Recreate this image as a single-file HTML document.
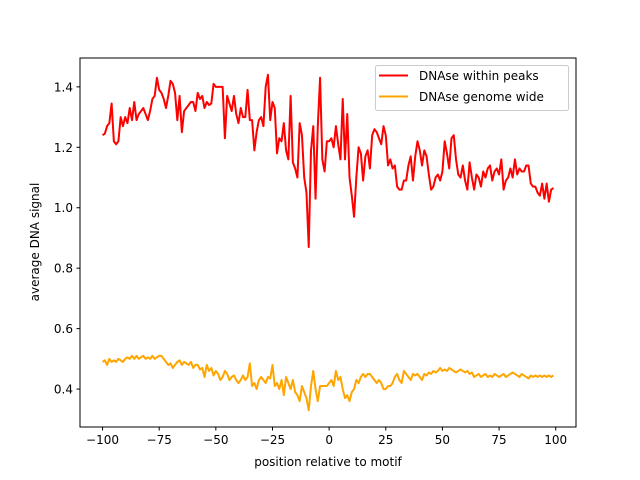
<!DOCTYPE html>
<html><head><meta charset="utf-8"><style>
body{margin:0;background:#fff}
svg{display:block;font-family:"DejaVu Sans","Liberation Sans",sans-serif}
</style></head><body>
<svg id="chart" width="640" height="480">
<rect x="0" y="0" width="640" height="480" fill="#fff"/>
<g id="series"></g>
<rect x="80" y="58" width="496" height="369" fill="none" stroke="#000" stroke-width="1"/>
<g id="xticks"></g>
<g id="yticks"></g>
<text x="328" y="466" font-size="12" text-anchor="middle">position relative to motif</text>
<text x="0" y="0" font-size="12" text-anchor="middle" transform="translate(39,242) rotate(-90)">average DNA signal</text>
<g>
<rect x="375.5" y="65.5" width="193" height="45" rx="2" fill="#fff" fill-opacity="0.8" stroke="#ccc"/>
<g>
<line x1="379" y1="75.5" x2="408" y2="75.5" stroke="#ff0000" stroke-width="2"/>
<text x="419" y="80" font-size="12">DNAse within peaks</text></g>
<g>
<line x1="379" y1="96.5" x2="408" y2="96.5" stroke="#ffa500" stroke-width="2"/>
<text x="419" y="101" font-size="12">DNAse genome wide</text></g>
</g>
</svg>
<script>
const xTicks=[-100,-75,-50,-25,0,25,50,75,100];
const yTicks=[0.4,0.6,0.8,1.0,1.2,1.4];
const peaks=[
1.24,1.245,1.27,1.28,1.345,1.22,1.21,1.22,1.30,1.27,
1.30,1.28,1.33,1.29,1.35,1.29,1.31,1.32,1.33,1.31,
1.29,1.32,1.36,1.37,1.43,1.39,1.38,1.36,1.33,1.37,
1.42,1.41,1.38,1.29,1.37,1.25,1.32,1.33,1.34,1.35,
1.35,1.32,1.38,1.36,1.37,1.33,1.35,1.34,1.345,1.41,
1.40,1.40,1.40,1.40,1.23,1.37,1.345,1.32,1.37,1.31,
1.28,1.33,1.30,1.30,1.39,1.29,1.29,1.19,1.25,1.29,
1.30,1.27,1.40,1.44,1.29,1.35,1.33,1.18,1.23,1.22,
1.28,1.19,1.16,1.37,1.15,1.13,1.10,1.28,1.24,1.10,
1.05,0.87,1.19,1.27,1.03,1.27,1.43,1.16,1.12,1.22,
1.22,1.23,1.20,1.27,1.21,1.16,1.36,1.16,1.31,1.10,
1.04,0.97,1.10,1.20,1.18,1.09,1.17,1.19,1.13,1.24,
1.26,1.25,1.23,1.21,1.27,1.24,1.14,1.16,1.13,1.14,
1.07,1.06,1.06,1.09,1.09,1.14,1.17,1.09,1.17,1.22,
1.19,1.14,1.19,1.17,1.11,1.06,1.07,1.10,1.11,1.09,
1.12,1.22,1.18,1.13,1.23,1.24,1.16,1.11,1.10,1.14,
1.09,1.06,1.15,1.10,1.06,1.11,1.10,1.07,1.12,1.10,
1.13,1.14,1.09,1.12,1.13,1.11,1.16,1.06,1.09,1.10,
1.13,1.10,1.16,1.11,1.13,1.12,1.12,1.14,1.14,1.08,
1.07,1.07,1.05,1.04,1.08,1.03,1.08,1.02,1.06,1.065];
const genome=[
.49,.495,.48,.50,.49,.495,.49,.50,.495,.49,
.50,.505,.50,.51,.50,.51,.50,.505,.51,.50,
.505,.50,.51,.50,.505,.51,.51,.50,.49,.48,
.485,.47,.48,.49,.495,.48,.49,.485,.48,.49,
.47,.48,.48,.465,.47,.44,.48,.46,.47,.445,
.46,.45,.43,.44,.46,.45,.43,.44,.445,.43,
.42,.43,.445,.43,.44,.485,.41,.42,.40,.43,
.44,.43,.42,.44,.435,.48,.41,.42,.40,.43,
.38,.44,.42,.40,.43,.39,.38,.36,.41,.39,
.37,.33,.41,.46,.40,.36,.41,.41,.41,.41,
.42,.43,.41,.46,.43,.44,.40,.37,.38,.36,
.39,.40,.43,.42,.44,.45,.44,.45,.45,.44,
.43,.42,.43,.42,.40,.40,.41,.41,.42,.44,
.45,.43,.42,.46,.45,.44,.43,.45,.445,.45,
.44,.43,.45,.445,.455,.45,.46,.455,.46,.47,
.46,.465,.46,.47,.465,.46,.455,.46,.465,.46,
.455,.46,.45,.455,.44,.445,.45,.44,.445,.45,
.44,.445,.44,.45,.445,.44,.445,.45,.44,.445,
.45,.455,.45,.445,.44,.45,.445,.44,.435,.445,
.44,.445,.44,.445,.44,.445,.44,.445,.44,.445];
const xStart=-100;
const NS='http://www.w3.org/2000/svg';
const L=80,T=58,W=496,H=369;
const all=peaks.concat(genome);
const n=peaks.length;
const xmin0=xStart,xmax0=xStart+n-1,xp=(xmax0-xmin0)*0.05;
const ymin0=Math.min(...all),ymax0=Math.max(...all),yp=(ymax0-ymin0)*0.05;
function xs(v){return L+(v-(xmin0-xp))/((xmax0+xp)-(xmin0-xp))*W;}
function ys(v){return T+H-(v-(ymin0-yp))/((ymax0+yp)-(ymin0-yp))*H;}
function mk(tag,attrs,parent){const e=document.createElementNS(NS,tag);for(const k in attrs)e.setAttribute(k,attrs[k]);parent.appendChild(e);return e;}
const xg=document.getElementById('xticks'),yg=document.getElementById('yticks');
xTicks.forEach(t=>{const x=xs(t);
 const ln=mk('line',{x1:x,x2:x,y1:T+H,y2:T+H+3.5,stroke:'#000'},xg);
 
 
 const tx=mk('text',{x:x,y:T+H+17,'font-size':12,'text-anchor':'middle'},xg);
 tx.textContent=(t<0?'\u2212'+(-t):t);
 
 });
yTicks.forEach(t=>{const y=ys(t);
 const ln=mk('line',{x1:L-3.5,x2:L,y1:y,y2:y,stroke:'#000'},yg);
 
 
 const tx=mk('text',{x:L-7,y:y+4.5,'font-size':12,'text-anchor':'end'},yg);
 tx.textContent=t.toFixed(1);
 
 });
const sg=document.getElementById('series');
function line(arr,color,name){const pts=arr.map((v,i)=>xs(xStart+i).toFixed(2)+','+ys(v).toFixed(2)).join(' ');
 const p=mk('polyline',{points:pts,fill:'none',stroke:color,'stroke-width':2,'stroke-linejoin':'round'},sg);
 
 }
line(peaks,'#ff0000','line-dnase-within-peaks');
line(genome,'#ffa500','line-dnase-genome-wide');
</script>
</body></html>
